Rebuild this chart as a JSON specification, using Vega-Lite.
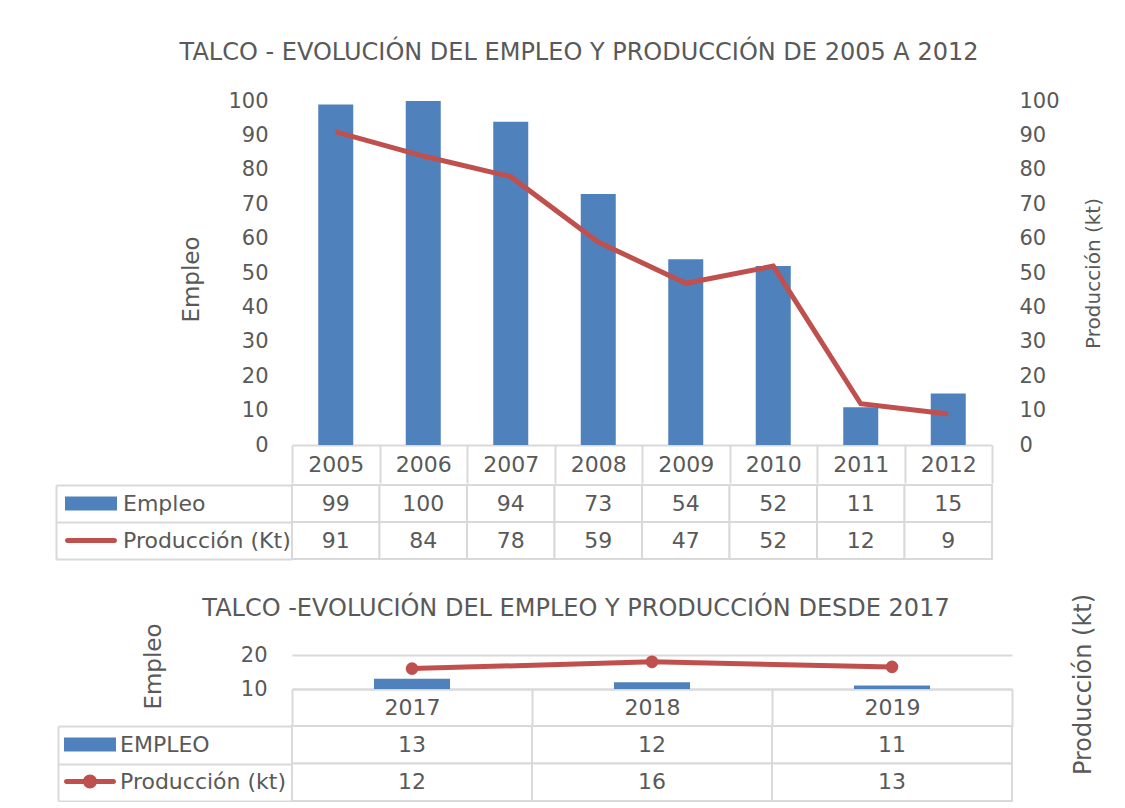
{
  "$schema": "https://vega.github.io/schema/vega-lite/v6.json",
  "padding": {"left": 55, "top": 41, "right": 0, "bottom": 0},
  "background": "white",
  "datasets": {
    "t1": [
      {"anio": "2005", "serie": "Empleo", "valor": 99},
      {"anio": "2006", "serie": "Empleo", "valor": 100},
      {"anio": "2007", "serie": "Empleo", "valor": 94},
      {"anio": "2008", "serie": "Empleo", "valor": 73},
      {"anio": "2009", "serie": "Empleo", "valor": 54},
      {"anio": "2010", "serie": "Empleo", "valor": 52},
      {"anio": "2011", "serie": "Empleo", "valor": 11},
      {"anio": "2012", "serie": "Empleo", "valor": 15},
      {"anio": "2005", "serie": "Producción (Kt)", "valor": 91},
      {"anio": "2006", "serie": "Producción (Kt)", "valor": 84},
      {"anio": "2007", "serie": "Producción (Kt)", "valor": 78},
      {"anio": "2008", "serie": "Producción (Kt)", "valor": 59},
      {"anio": "2009", "serie": "Producción (Kt)", "valor": 47},
      {"anio": "2010", "serie": "Producción (Kt)", "valor": 52},
      {"anio": "2011", "serie": "Producción (Kt)", "valor": 12},
      {"anio": "2012", "serie": "Producción (Kt)", "valor": 9}
    ],
    "t2": [
      {"anio": "2017", "serie": "EMPLEO", "valor": 13},
      {"anio": "2018", "serie": "EMPLEO", "valor": 12},
      {"anio": "2019", "serie": "EMPLEO", "valor": 11},
      {"anio": "2017", "serie": "Producción (kt)", "valor": 12},
      {"anio": "2018", "serie": "Producción (kt)", "valor": 16},
      {"anio": "2019", "serie": "Producción (kt)", "valor": 13}
    ]
  },
  "config": {
    "font": "DejaVu Sans",
    "view": {"stroke": null},
    "axis": {
      "labelFont": "DejaVu Sans", "labelFontSize": 21, "labelColor": "#595959",
      "titleFont": "DejaVu Sans", "titleFontWeight": "normal", "titleColor": "#595959",
      "grid": false, "ticks": false, "domain": false
    },
    "title": {"font": "DejaVu Sans", "fontWeight": "normal", "color": "#595959", "fontSize": 24}
  },
  "spacing": 33,
  "resolve": {"scale": {"color": "independent", "shape": "independent", "x": "independent", "y": "independent"}, "legend": {"color": "independent", "shape": "independent"}},
  "vconcat": [
    {
      "title": {"text": "TALCO - EVOLUCIÓN DEL EMPLEO Y PRODUCCIÓN DE 2005 A 2012", "anchor": "middle", "offset": 25},
      "spacing": 0,
      "resolve": {"scale": {"color": "independent", "shape": "independent", "x": "independent", "y": "independent"}, "legend": {"color": "independent", "shape": "independent"}},
      "vconcat": [
        {
          "width": 700, "height": 344,
          "data": {"name": "t1"},
          "resolve": {"scale": {"y": "independent"}},
          "layer": [
            {
              "transform": [{"filter": "datum.serie === 'Empleo'"}],
              "mark": {"type": "bar", "color": "#4f81bd", "width": {"band": 0.4}},
              "encoding": {
                "x": {"field": "anio", "type": "nominal", "scale": {"padding": 0},
                  "axis": {"orient": "bottom", "title": null, "labelAngle": 0, "domain": true, "domainColor": "#d9d9d9", "domainWidth": 2,
                    "ticks": true, "tickBand": "extent", "tickSize": 38, "tickColor": "#d9d9d9", "tickWidth": 2,
                    "labelPadding": -19, "labelBaseline": "middle", "labelFontSize": 22}},
                "y": {"field": "valor", "type": "quantitative", "scale": {"domain": [0, 100]},
                  "axis": {"title": "Empleo", "titleFontSize": 23, "titleY": 178, "values": [0,10,20,30,40,50,60,70,80,90,100], "labelPadding": 24, "titlePadding": 24}}
              }
            },
            {
              "transform": [{"filter": "datum.serie === 'Producción (Kt)'"}],
              "mark": {"type": "line", "color": "#c0504d", "strokeWidth": 5},
              "encoding": {
                "x": {"field": "anio", "type": "nominal"},
                "y": {"field": "valor", "type": "quantitative", "scale": {"domain": [0, 100]},
                  "axis": {"orient": "right", "title": "Producción (kt)", "titleFontSize": 20, "titleAngle": 270, "values": [0,10,20,30,40,50,60,70,80,90,100], "labelPadding": 27, "titlePadding": 44}}
              }
            }
          ]
        },
        {
          "width": 700, "height": 74,
          "data": {"name": "t1"},
          "layer": [
            {
              "mark": {"type": "rect", "fill": "white", "stroke": "#d9d9d9", "strokeWidth": 2},
              "encoding": {
                "x": {"field": "anio", "type": "nominal", "axis": null, "scale": {"padding": 0}},
                "y": {"field": "serie", "type": "nominal", "sort": ["Empleo", "Producción (Kt)"], "scale": {"padding": 0},
                  "axis": {"orient": "left", "offset": 236, "title": null, "labels": false, "domain": true, "domainColor": "#d9d9d9", "domainWidth": 2,
                    "ticks": true, "tickBand": "extent", "tickSize": -236, "tickColor": "#d9d9d9", "tickWidth": 2}}
              }
            },
            {
              "mark": {"type": "text", "fontSize": 22, "color": "#595959", "font": "DejaVu Sans"},
              "encoding": {
                "x": {"field": "anio", "type": "nominal"},
                "y": {"field": "serie", "type": "nominal", "sort": ["Empleo", "Producción (Kt)"]},
                "text": {"field": "valor", "type": "quantitative"}
              }
            },
            {
              "transform": [{"filter": "datum.valor < 0"}],
              "mark": {"type": "point", "filled": true, "size": 100, "opacity": 1},
              "encoding": {
                "x": {"field": "anio", "type": "nominal"},
                "y": {"field": "serie", "type": "nominal", "sort": ["Empleo", "Producción (Kt)"]},
                "color": {"field": "serie", "type": "nominal",
                  "scale": {"domain": ["Empleo", "Producción (Kt)"], "range": ["#4f81bd", "#c0504d"]},
                  "legend": {"orient": "none", "legendX": -212, "legendY": 7.5, "title": null, "padding": 0,
                    "labelFont": "DejaVu Sans", "labelFontSize": 22, "labelColor": "#595959", "labelLimit": 300,
                    "symbolSize": 100, "symbolOpacity": 1, "rowPadding": 15, "labelOffset": 21}},
                "shape": {"field": "serie", "type": "nominal",
                  "scale": {"domain": ["Empleo", "Producción (Kt)"], "range": ["M-5.2,-1.4H5.2V1.4H-5.2Z", "M-4.7,-0.5H4.7A0.5,0.5 0 0,1 4.7,0.5H-4.7A0.5,0.5 0 0,1 -4.7,-0.5Z"]},
                  "legend": {"orient": "none", "legendX": -212, "legendY": 7.5, "title": null, "padding": 0,
                    "labelFont": "DejaVu Sans", "labelFontSize": 22, "labelColor": "#595959", "labelLimit": 300,
                    "symbolSize": 100, "symbolOpacity": 1, "rowPadding": 15, "labelOffset": 21}}
              }
            }
          ]
        }
      ]
    },
    {
      "title": {"text": "TALCO -EVOLUCIÓN DEL EMPLEO Y PRODUCCIÓN DESDE 2017", "anchor": "middle", "offset": -28},
      "spacing": 37,
      "bounds": "flush",
      "resolve": {"scale": {"color": "independent", "shape": "independent", "x": "independent", "y": "independent"}, "legend": {"color": "independent", "shape": "independent"}},
      "vconcat": [
        {
          "width": 720, "height": 34,
          "data": {"name": "t2"},
          "resolve": {"scale": {"y": "independent"}},
          "layer": [
            {
              "transform": [{"filter": "datum.serie === 'EMPLEO'"}],
              "mark": {"type": "bar", "color": "#4f81bd", "width": {"band": 0.317}},
              "encoding": {
                "x": {"field": "anio", "type": "nominal", "scale": {"padding": 0},
                  "axis": {"orient": "bottom", "title": null, "labelAngle": 0, "domain": true, "domainColor": "#d9d9d9", "domainWidth": 2,
                    "ticks": true, "tickBand": "extent", "tickSize": 37, "tickColor": "#d9d9d9", "tickWidth": 2,
                    "labelPadding": -18.5, "labelBaseline": "middle", "labelFontSize": 22}},
                "y": {"field": "valor", "type": "quantitative", "scale": {"domain": [10, 20]},
                  "axis": {"title": "Empleo", "titleFontSize": 23, "titleY": 11, "values": [10, 20], "labelPadding": 25, "titlePadding": 75,
                    "grid": true, "gridColor": "#d9d9d9", "gridWidth": 2}},
                "y2": {"datum": 10}
              }
            },
            {
              "transform": [{"filter": "datum.serie === 'Producción (kt)'"}],
              "mark": {"type": "line", "color": "#c0504d", "strokeWidth": 5, "point": {"filled": true, "size": 160, "color": "#c0504d"}},
              "encoding": {
                "x": {"field": "anio", "type": "nominal"},
                "y": {"field": "valor", "type": "quantitative", "scale": {"domain": [0, 20]},
                  "axis": {"orient": "right", "title": "Producción (kt)", "titleFontSize": 24, "titleAngle": 270, "titleY": 29, "labels": false, "titlePadding": 83}}
              }
            }
          ]
        },
        {
          "width": 720, "height": 75,
          "data": {"name": "t2"},
          "layer": [
            {
              "mark": {"type": "rect", "fill": "white", "stroke": "#d9d9d9", "strokeWidth": 2},
              "encoding": {
                "x": {"field": "anio", "type": "nominal", "axis": null, "scale": {"padding": 0}},
                "y": {"field": "serie", "type": "nominal", "sort": ["EMPLEO", "Producción (kt)"], "scale": {"padding": 0},
                  "axis": {"orient": "left", "offset": 234, "title": null, "labels": false, "domain": true, "domainColor": "#d9d9d9", "domainWidth": 2,
                    "ticks": true, "tickBand": "extent", "tickSize": -234, "tickColor": "#d9d9d9", "tickWidth": 2}}
              }
            },
            {
              "mark": {"type": "text", "fontSize": 22, "color": "#595959", "font": "DejaVu Sans"},
              "encoding": {
                "x": {"field": "anio", "type": "nominal"},
                "y": {"field": "serie", "type": "nominal", "sort": ["EMPLEO", "Producción (kt)"]},
                "text": {"field": "valor", "type": "quantitative"}
              }
            },
            {
              "transform": [{"filter": "datum.valor < 0"}],
              "mark": {"type": "point", "filled": true, "size": 100, "opacity": 1},
              "encoding": {
                "x": {"field": "anio", "type": "nominal"},
                "y": {"field": "serie", "type": "nominal", "sort": ["EMPLEO", "Producción (kt)"]},
                "color": {"field": "serie", "type": "nominal",
                  "scale": {"domain": ["EMPLEO", "Producción (kt)"], "range": ["#4f81bd", "#c0504d"]},
                  "legend": {"orient": "none", "legendX": -213, "legendY": 7.5, "title": null, "padding": 0,
                    "labelFont": "DejaVu Sans", "labelFontSize": 22, "labelColor": "#595959", "labelLimit": 300,
                    "symbolSize": 100, "symbolOpacity": 1, "rowPadding": 15, "labelOffset": 19}},
                "shape": {"field": "serie", "type": "nominal",
                  "scale": {"domain": ["EMPLEO", "Producción (kt)"], "range": ["M-5.2,-1.4H5.2V1.4H-5.2Z", "M-4.7,-0.5H4.7A0.5,0.5 0 0,1 4.7,0.5H-4.7A0.5,0.5 0 0,1 -4.7,-0.5ZM-1.4,0A1.4,1.4 0 1,1 1.4,0A1.4,1.4 0 1,1 -1.4,0Z"]},
                  "legend": {"orient": "none", "legendX": -213, "legendY": 7.5, "title": null, "padding": 0,
                    "labelFont": "DejaVu Sans", "labelFontSize": 22, "labelColor": "#595959", "labelLimit": 300,
                    "symbolSize": 100, "symbolOpacity": 1, "rowPadding": 15, "labelOffset": 19}}
              }
            }
          ]
        }
      ]
    }
  ]
}
